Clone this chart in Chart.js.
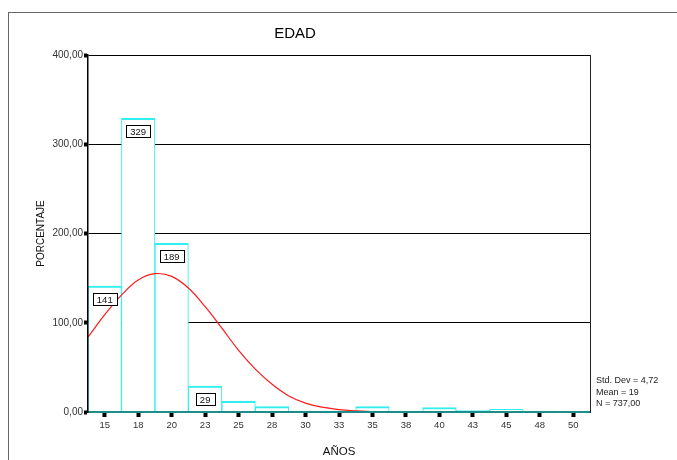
<!DOCTYPE html>
<html>
<head>
<meta charset="utf-8">
<script src="https://cdn.jsdelivr.net/npm/chart.js@4/dist/chart.umd.min.js"></script>
<style>
  html, body { margin: 0; padding: 0; background: #fff; }
  #frame {
    position: absolute; left: 8px; top: 12px; right: 0; bottom: 0;
    border-top: 1px solid #666; border-left: 1px solid #666;
  }
  #wrap { position: absolute; left: 0; top: 0; width: 677px; height: 460px; }
</style>
</head>
<body>
<div id="frame"></div>
<div id="wrap"><canvas id="edadChart"></canvas></div>
<script>
// histogram bins (midpoints shown as tick labels)
const ageLabels = ['15', '18', '20', '23', '25', '28', '30', '33', '35', '38', '40', '43', '45', '48', '50'];
const counts = [141, 329, 189, 29, 12, 6, 1, 1, 6, 1, 5, 2, 3, 1, 0];

// normal curve (x in years, y in count)
const curveX = [13.75, 15, 16.25, 17.5, 18.75, 20, 21.25, 22.5, 23.75, 25, 26.25, 27.5, 28.75, 30, 31.25, 32.5, 33.75, 35, 36.25];
const curveY = [84, 109, 131, 148, 155, 152, 139, 118, 94, 69, 48, 31, 18, 10, 5.4, 2.6, 1.2, 0.5, 0.2];

const statLines = ['Std. Dev = 4,72', 'Mean = 19', 'N = 737,00'];

const FONT = '"Liberation Sans", Arial, sans-serif';

// boxed value labels under the top of the bigger bars
const barLabels = {
    id: 'barLabels',
    afterDatasetsDraw(chart) {
        const ctx = chart.ctx;
        const meta = chart.getDatasetMeta(0);
        ctx.save();
        ctx.font = '9.5px ' + FONT;
        ctx.textAlign = 'center';
        ctx.textBaseline = 'middle';
        meta.data.forEach((bar, i) => {
            if (counts[i] < 20) return;
            const txt = String(counts[i]);
            const w = Math.round(ctx.measureText(txt).width) + 8;
            const h = 12;
            const x = Math.round(bar.x - w / 2) + 0.5;
            const y = Math.round(bar.y + 7) + 0.5;
            ctx.fillStyle = '#fff';
            ctx.fillRect(x, y, w, h);
            ctx.strokeStyle = '#000';
            ctx.lineWidth = 1;
            ctx.strokeRect(x, y, w, h);
            ctx.fillStyle = '#111';
            ctx.fillText(txt, bar.x, y + h / 2 + 0.5);
        });
        ctx.restore();
    }
};

// statistics block at the right of the plot
const statsText = {
    id: 'statsText',
    afterDraw(chart) {
        const { ctx, chartArea } = chart;
        ctx.save();
        ctx.font = '9px ' + FONT;
        ctx.fillStyle = '#222';
        ctx.textAlign = 'left';
        ctx.textBaseline = 'middle';
        statLines.forEach((line, i) => {
            ctx.fillText(line, chartArea.right + 6, chartArea.bottom - 31 + i * 11.5);
        });
        ctx.restore();
    }
};

new Chart(document.getElementById('edadChart'), {
    type: 'bar',
    data: {
        labels: ageLabels,
        datasets: [{
            type: 'bar',
            data: counts,
            backgroundColor: '#ffffff',
            borderColor: '#2eeeee',
            borderWidth: { top: 2, left: 1, right: 1, bottom: 0 },
            barPercentage: 1,
            categoryPercentage: 1,
            grouped: false,
            order: 1
        }, {
            type: 'line',
            xAxisID: 'x2',
            data: curveX.map((x, i) => ({ x: x, y: curveY[i] })),
            borderColor: '#ff1a1a',
            borderWidth: 1.2,
            pointRadius: 0,
            tension: 0.4,
            fill: false,
            order: 0
        }]
    },
    options: {
        responsive: true,
        maintainAspectRatio: false,
        animation: false,
        layout: { padding: { left: 0, right: 87, top: 0, bottom: 0 } },
        plugins: {
            legend: { display: false },
            tooltip: { enabled: false },
            title: {
                display: true,
                text: 'EDAD',
                color: '#000',
                font: { family: FONT, size: 15, weight: 'normal' },
                padding: { top: 25, bottom: 12 }
            }
        },
        scales: {
            x: {
                type: 'category',
                offset: true,
                grid: {
                    display: true,
                    drawOnChartArea: false,
                    offset: false,
                    tickLength: 5,
                    tickWidth: 4,
                    tickColor: '#000'
                },
                border: { display: true, color: '#1f8c8c', width: 2, z: 1 },
                ticks: {
                    color: '#333',
                    font: { family: FONT, size: 9.5 },
                    padding: 3,
                    maxRotation: 0,
                    autoSkip: false
                },
                title: {
                    display: true,
                    text: 'AÑOS',
                    color: '#111',
                    font: { family: FONT, size: 11.5 },
                    padding: { top: 0, bottom: 1.5 }
                },
                afterFit(scale) { scale.height = 48; }
            },
            x2: {
                type: 'linear',
                display: false,
                offset: false,
                bounds: 'data',
                min: 13.75,
                max: 51.25
            },
            y: {
                min: 0,
                max: 400,
                ticks: {
                    stepSize: 100,
                    color: '#333',
                    font: { family: FONT, size: 10 },
                    padding: 1,
                    callback: v => v.toFixed(2).replace('.', ',')
                },
                grid: {
                    color: c => (c.tick && c.tick.value === 0) ? 'rgba(0,0,0,0)' : '#000',
                    lineWidth: 1,
                    tickLength: 4,
                    tickWidth: 4,
                    tickColor: '#000'
                },
                border: { display: true, color: '#000', width: 1.5, z: 1 },
                title: {
                    display: true,
                    text: 'PORCENTAJE',
                    color: '#111',
                    font: { family: FONT, size: 10 },
                    padding: { top: 35.5, bottom: 0 }
                },
                afterFit(scale) { scale.width = 88; }
            },
            y2: {
                type: 'linear',
                position: 'right',
                display: true,
                ticks: { display: false },
                grid: { display: false, drawTicks: false, tickLength: 0 },
                border: { display: true, color: '#222', width: 1, z: 1 }
            }
        }
    },
    plugins: [barLabels, statsText]
});
</script>
</body>
</html>
